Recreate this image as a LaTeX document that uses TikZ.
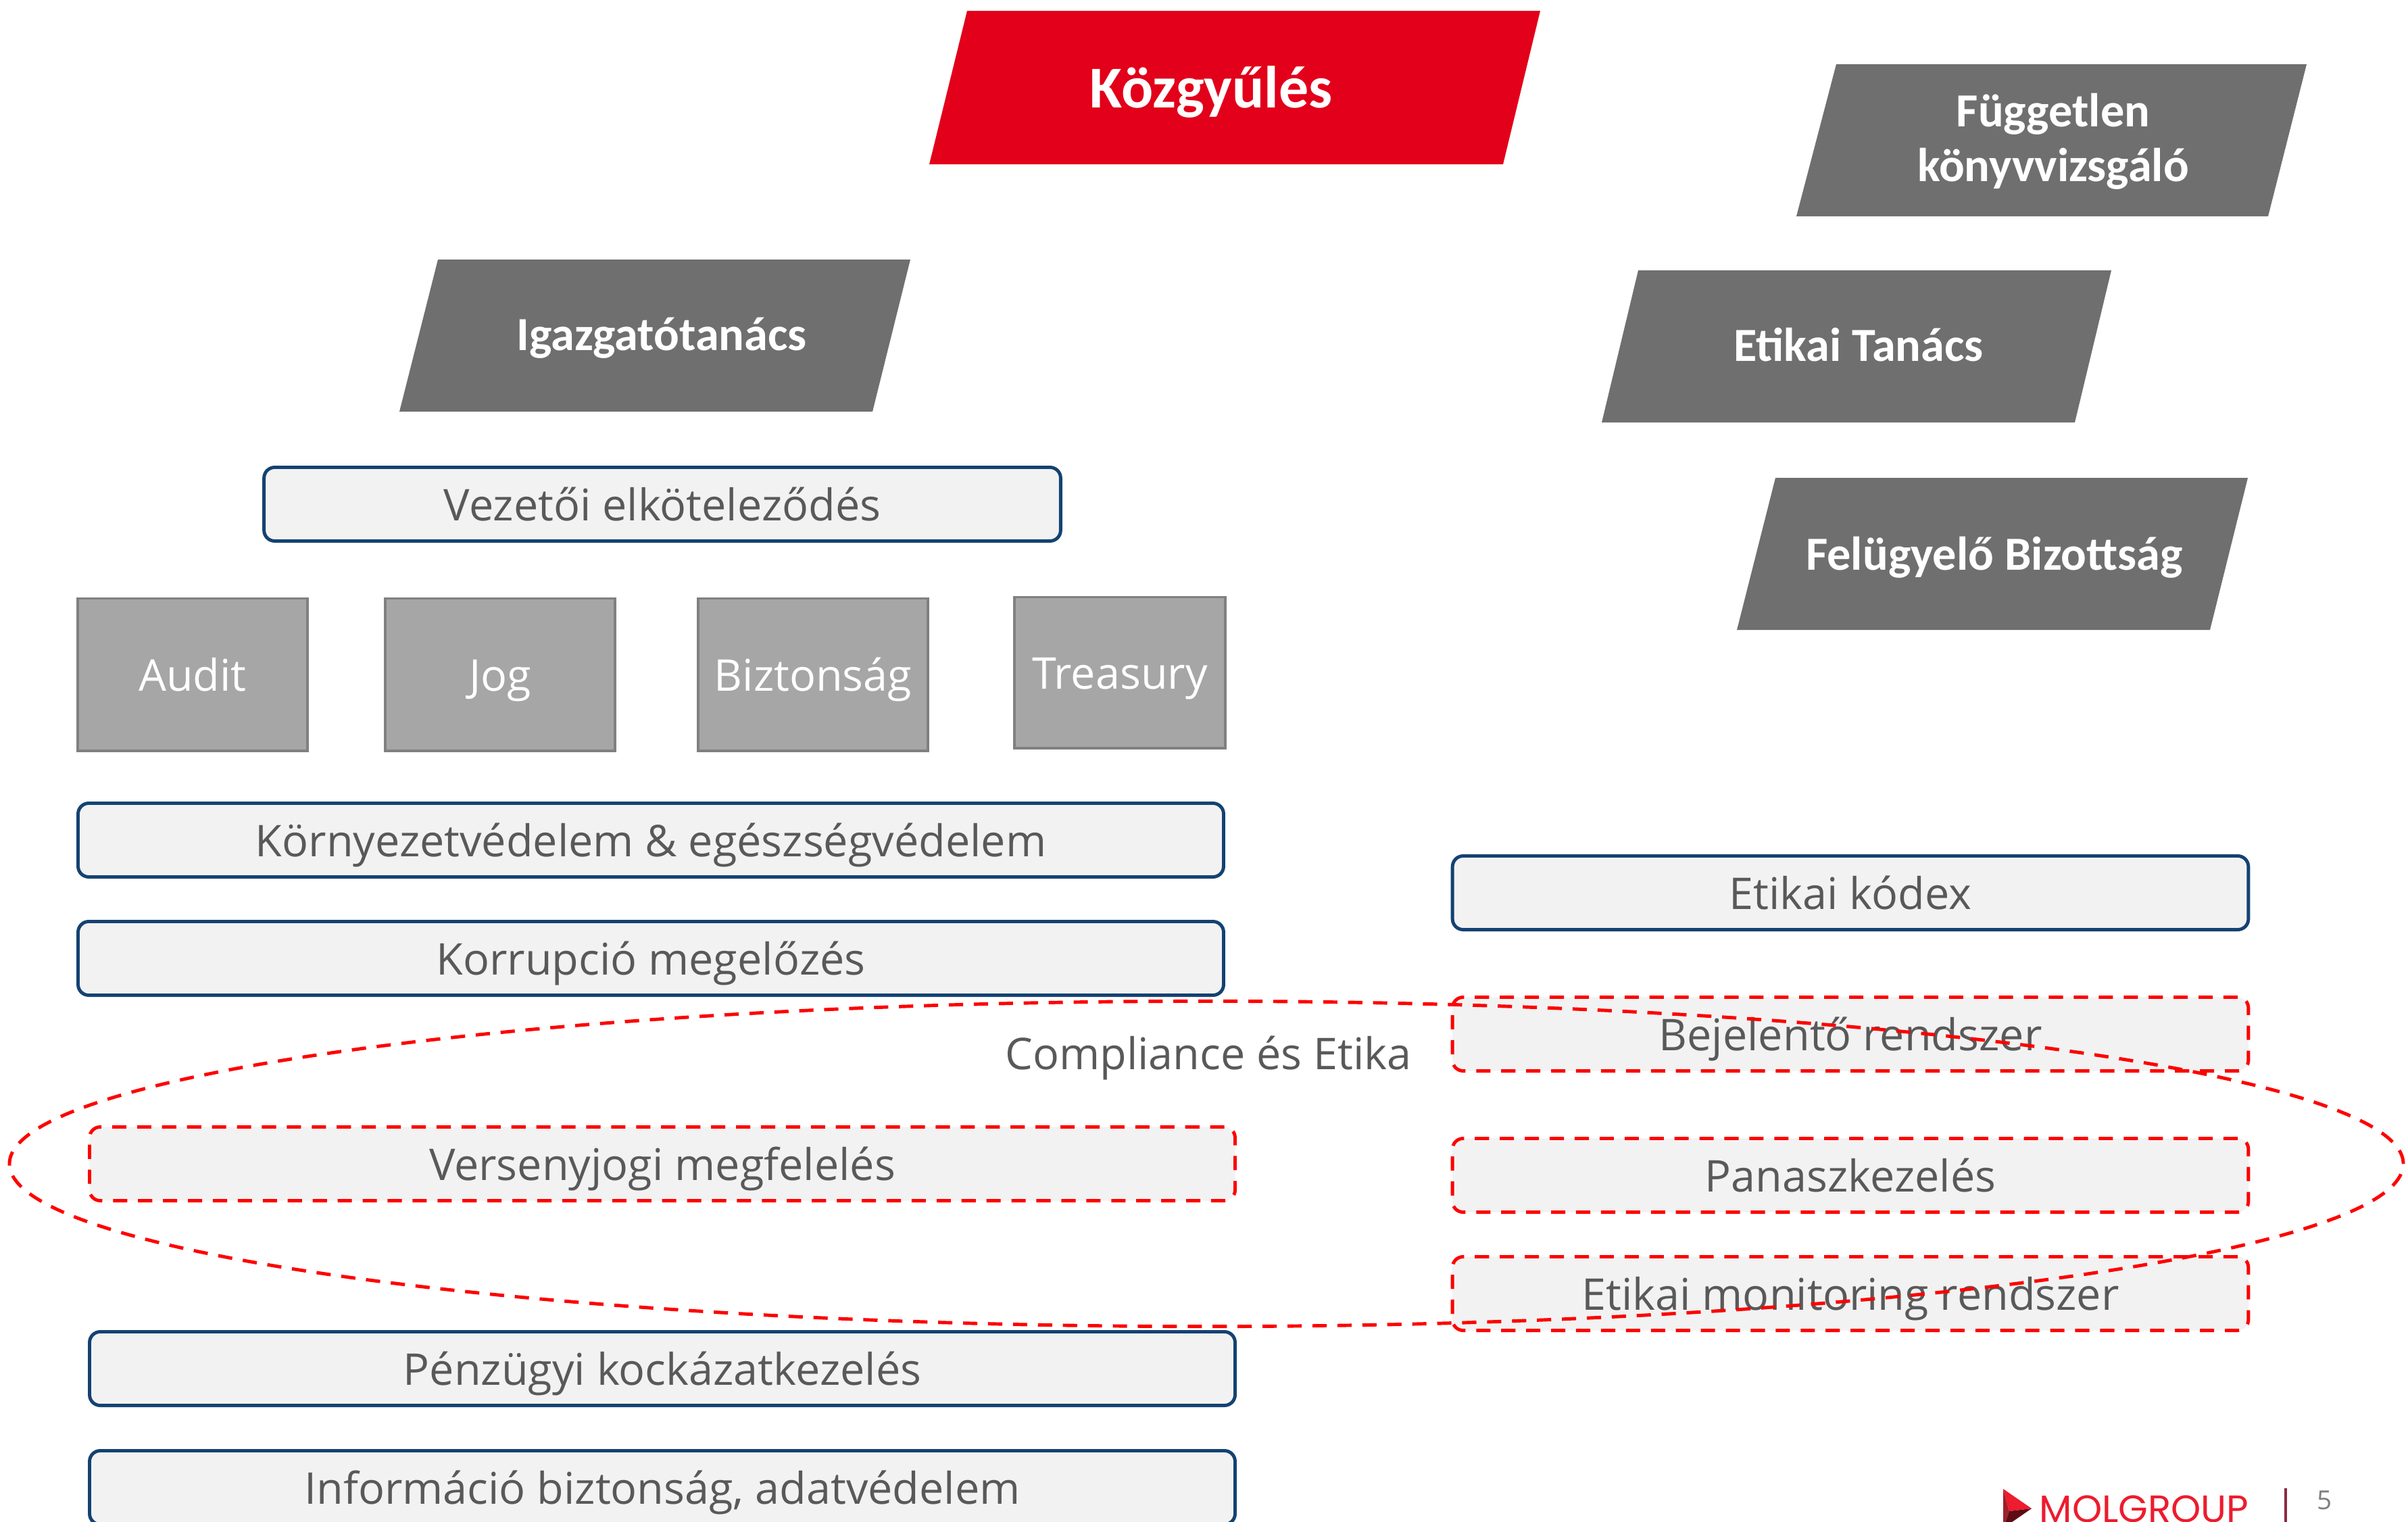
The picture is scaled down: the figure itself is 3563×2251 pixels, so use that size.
\documentclass[tikz,border=0pt]{standalone}
\usepackage{fontspec}
\setmainfont{Open Sans}
\newfontfamily\headfont{Carlito}
\newfontfamily\logofont{Poppins}
\usetikzlibrary{shapes.geometric}

\definecolor{kred}{HTML}{E2001A}
\definecolor{kdash}{HTML}{FF0000}
\definecolor{kblue}{RGB}{20,66,114}
\definecolor{kfill}{HTML}{F2F2F2}
\definecolor{ktext}{HTML}{595959}
\definecolor{kgray}{HTML}{A6A6A6}
\definecolor{kgrayline}{HTML}{808080}
\definecolor{khead}{HTML}{6F6F6F}
\definecolor{molred}{HTML}{ED1C2E}
\definecolor{molmid}{HTML}{A01F2B}
\definecolor{moldark}{HTML}{5E0B16}
\definecolor{molbar}{HTML}{8B2942}
\definecolor{kpage}{HTML}{7F7F7F}

\tikzset{
  headtxt/.style={text=white, inner sep=0pt, font=\headfont\bfseries\fontsize{20}{23}\selectfont},
  kbox/.style={draw=kblue, line width=1.4pt, fill=kfill, rounded corners=4.5pt,
    minimum height=1.09cm, inner sep=0pt, text=ktext, text height=19pt, text depth=5pt,
    font=\fontsize{18.4}{22}\selectfont},
  rbox/.style={kbox, draw=kdash, dash pattern=on 6pt off 4.5pt},
  unit/.style={draw=kgrayline, line width=1.1pt, fill=kgray, minimum width=3.39cm,
    minimum height=2.25cm, inner sep=0pt, text=white, text height=19pt, text depth=5pt,
    font=\fontsize{18.4}{22}\selectfont}
}

\begin{document}
\begin{tikzpicture}[x=0.01cm, y=-0.01cm]
  \useasboundingbox (0,0) rectangle (3563,2251);
  % Header shapes
  \fill[kred] (1431,16) -- (2279,16) -- (2224,243) -- (1375,243) -- cycle;
  \fill[khead] (2717,95) -- (3413,95) -- (3356,320) -- (2658,320) -- cycle;
  \fill[khead] (648,384) -- (1347,384) -- (1291,609) -- (591,609) -- cycle;
  \fill[khead] (2424,400) -- (3124,400) -- (3070,625) -- (2370,625) -- cycle;
  \fill[khead] (2627,707) -- (3326,707) -- (3270,932) -- (2570,932) -- cycle;
  % Header texts
  \node[headtxt, font=\headfont\bfseries\fontsize{25}{30}\selectfont, anchor=base] (kozgy) at (1792,159) {Közgyűlés};
  \node[headtxt, align=center] (konyv) at (3038,209) {Független\\könyvvizsgáló};
  \node[headtxt, anchor=base] (igazg) at (979,518) {Igazgatótanács};
  \node[headtxt, anchor=base] (etanacs) at (2750,534) {Etikai Tanács};
  \node[headtxt, anchor=base] (felb) at (2951,843) {Felügyelő Bizottság};
  % Left column
  \node[kbox, minimum width=11.78cm] (vez) at (980,746) {Vezetői elköteleződés};
  \node[unit] (audit) at (285,998) {Audit};
  \node[unit] (jog) at (740,998) {Jog};
  \node[unit] (bizt) at (1203,998) {Biztonság};
  \node[unit, minimum width=3.11cm, minimum height=2.23cm] (treas) at (1657,995) {Treasury};
  \node[kbox, minimum width=16.94cm] (korny) at (963,1243) {Környezetvédelem \& egészségvédelem};
  \node[kbox, minimum width=16.94cm] (korr) at (963,1418) {Korrupció megelőzés};
  \node[rbox, minimum width=16.94cm] (verseny) at (980,1722) {Versenyjogi megfelelés};
  \node[kbox, minimum width=16.94cm] (penz) at (980,2025) {Pénzügyi kockázatkezelés};
  \node[kbox, minimum width=16.94cm] (info) at (980,2201) {Információ biztonság, adatvédelem};
  % Right column
  \node[kbox, minimum width=11.77cm] (kodex) at (2738,1321) {Etikai kódex};
  \node[rbox, minimum width=11.77cm] (bejel) at (2738,1530) {Bejelentő rendszer};
  \node[rbox, minimum width=11.77cm] (panasz) at (2738,1739) {Panaszkezelés};
  \node[rbox, minimum width=11.77cm] (monit) at (2738,1914) {Etikai monitoring rendszer};
  % Compliance
  \node[text=ktext, inner sep=0pt, font=\fontsize{18.4}{22}\selectfont] (cetxt) at (1788,1565) {Compliance és Etika};
  \node[ellipse, draw=kdash, line width=1.4pt, dash pattern=on 6pt off 4.5pt,
    minimum width=35.4cm, minimum height=4.81cm, inner sep=0pt] (celli) at (1785,1722) {};
  % Logo
  \fill[molmid] (2964,2203) -- (2973,2236) -- (2964,2261) -- cycle;
  \fill[molred] (2964,2203) -- (3006,2232) -- (2973,2236) -- cycle;
  \fill[moldark] (2973,2236) -- (3006,2232) -- (2964,2261) -- cycle;
  \node[anchor=base west, inner sep=0pt, text=molred, font=\logofont\fontsize{16}{19}\selectfont] (mol) at (3017,2252) {MOLGROUP};
  \coordinate (bartop) at (3382,2202);
  \coordinate (barbot) at (3382,2262);
  \draw[molbar, line width=1pt] (bartop) -- (barbot);
  \node[anchor=base west, inner sep=0pt, text=kpage, font=\fontsize{11}{13}\selectfont] (page) at (3428,2233) {5};
\end{tikzpicture}
\end{document}
